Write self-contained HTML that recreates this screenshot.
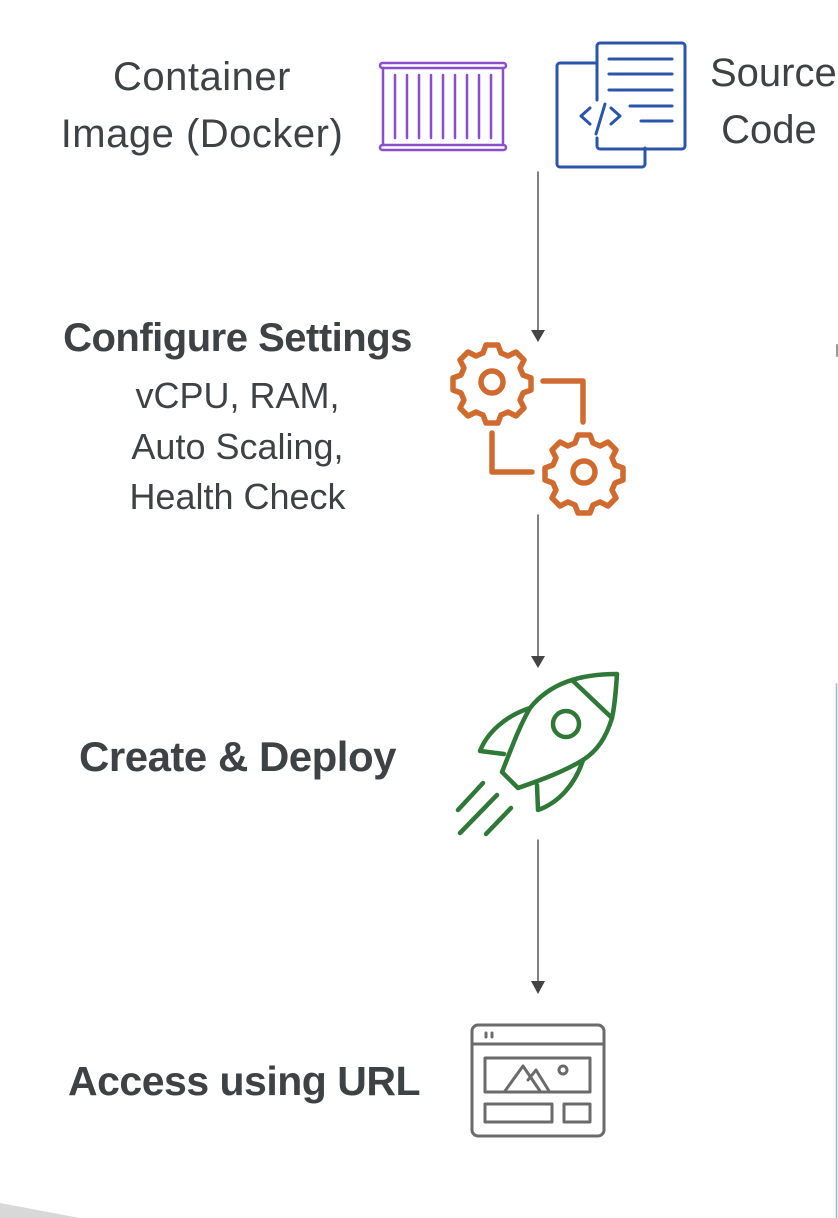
<!DOCTYPE html>
<html><head><meta charset="utf-8"><style>
html,body{margin:0;padding:0;background:#fff;}
body{width:838px;height:1218px;position:relative;overflow:hidden;font-family:"Liberation Sans",sans-serif;color:#3f4244;}
.t{position:absolute;white-space:nowrap;text-align:center;}
</style></head><body>
<div class="t" style="left:0px;top:49px;width:404px;font-size:40px;line-height:57px;letter-spacing:0.5px;">Container<br>Image (Docker)</div>
<div class="t" style="left:710px;top:45px;font-size:40px;line-height:57px;text-align:left;">Source<br>&nbsp;Code</div>
<div class="t" style="left:0;top:316px;width:475px;font-size:40px;font-weight:bold;letter-spacing:-0.5px;">Configure Settings</div>
<div class="t" style="left:0;top:371px;width:475px;font-size:36px;line-height:50.5px;">vCPU, RAM,<br>Auto Scaling,<br>Health Check</div>
<div class="t" style="left:0;top:733px;width:475px;font-size:42px;font-weight:bold;letter-spacing:-0.5px;">Create &amp; Deploy</div>
<div class="t" style="left:0;top:1058px;width:488px;font-size:41px;font-weight:bold;letter-spacing:-0.5px;">Access using URL</div>
<svg width="838" height="1218" style="position:absolute;left:0;top:0" fill="none" stroke-linecap="round" stroke-linejoin="round">
<g stroke="#555" stroke-width="1.5"><line x1="538" y1="172" x2="538" y2="330"/><line x1="538" y1="515" x2="538" y2="656"/><line x1="538" y1="840" x2="538" y2="981"/></g>
<g fill="#444"><path d="M531 330h14l-7 12z"/><path d="M531 656h14l-7 12z"/><path d="M531 981h14l-7 13z"/></g>
<g stroke="#8c4fcc" stroke-width="2.5">
<rect x="380" y="63" width="126" height="5" rx="2.5"/><rect x="380" y="145" width="126" height="5" rx="2.5"/>
<line x1="383" y1="68" x2="383" y2="145"/><line x1="503" y1="68" x2="503" y2="145"/>
<line x1="395" y1="75" x2="395" y2="138"/><line x1="407" y1="75" x2="407" y2="138"/><line x1="419" y1="75" x2="419" y2="138"/><line x1="431" y1="75" x2="431" y2="138"/><line x1="443" y1="75" x2="443" y2="138"/><line x1="455" y1="75" x2="455" y2="138"/><line x1="467" y1="75" x2="467" y2="138"/><line x1="479" y1="75" x2="479" y2="138"/><line x1="491" y1="75" x2="491" y2="138"/>
</g>
<g stroke="#2a55a8" stroke-width="3">
<path d="M597 63h-37a3 3 0 0 0-3 3v98a3 3 0 0 0 3 3h82a3 3 0 0 0 3-3v-16"/>
<path d="M597 100v-54a3 3 0 0 1 3-3h82a3 3 0 0 1 3 3v100a3 3 0 0 1-3 3h-82a3 3 0 0 1-3-3v-8"/>
<line x1="609" y1="59" x2="672" y2="59"/><line x1="609" y1="74" x2="672" y2="74"/><line x1="609" y1="90" x2="672" y2="90"/><line x1="630" y1="106" x2="672" y2="106"/><line x1="641" y1="121" x2="672" y2="121"/>
<path d="M590 108l-9 8 9 8M611 108l9 8-9 8M605 104l-9 30"/>
</g>
<g stroke="#d06b30" stroke-width="5.5">
<g transform="translate(492,382)"><path d="M-6-37h12l3 8 7 3 8-4 8 8-4 8 3 7 8 3v12l-8 3-3 7 4 8-8 8-8-4-7 3-3 8h-12l-3-8-7-3-8 4-8-8 4-8-3-7-8-3v-12l8-3 3-7-4-8 8-8 8 4 7-3z"/><circle r="11"/></g>
<g transform="translate(584,472)"><path d="M-6-37h12l3 8 7 3 8-4 8 8-4 8 3 7 8 3v12l-8 3-3 7 4 8-8 8-8-4-7 3-3 8h-12l-3-8-7-3-8 4-8-8 4-8-3-7-8-3v-12l8-3 3-7-4-8 8-8 8 4 7-3z"/><circle r="11"/></g>
<path d="M543 381h40v41M492 433v39h40"/>
</g>
<g stroke="#2f7838" stroke-width="4.5">
<path d="M530 708c20-25 50-34 87-34c-1 15-2 30-5 44c-6 20-15 33-29 42c-20 12-42 20-65 28l-16-16c10-25 17-45 28-64z"/>
<path d="M572 680l40 38"/>
<circle cx="566" cy="724" r="13"/>
<path d="M530 708c-25 8-43 25-50 43l24 3"/>
<path d="M583 760c-8 25-25 43-45 50l-1-25"/>
<path d="M483 783l-25 27M497 795l-37 38M511 808l-25 26"/>
</g>
<g stroke="#6b6b6b" stroke-width="3">
<rect x="472" y="1025" width="132" height="111" rx="6"/>
<line x1="472" y1="1044" x2="604" y2="1044"/>
<path d="M486 1033v4M492 1033v4"/>
<rect x="485" y="1058" width="105" height="34"/>
<rect x="485" y="1104" width="67" height="18"/><rect x="564" y="1104" width="26" height="18"/>
<path d="M505 1091l18-25 17 25M528 1080l8-10 13 21"/><circle cx="563" cy="1070" r="4"/>
</g>
<line x1="836.5" y1="684" x2="836.5" y2="1218" stroke="#9ab5da" stroke-width="1.5"/>
<line x1="837" y1="345" x2="837" y2="356" stroke="#999" stroke-width="2"/>
<path d="M0 1203L80 1218H0z" fill="#d8d8d8"/>
</svg>
</body></html>
